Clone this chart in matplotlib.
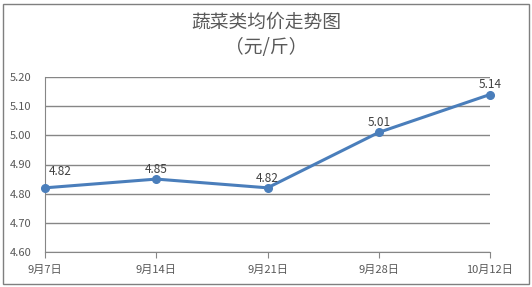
import matplotlib
matplotlib.use("Agg")
import matplotlib.pyplot as plt
from matplotlib.patches import Rectangle

plt.rcParams['font.family'] = ['Noto Sans CJK SC', 'DejaVu Sans']

categories = ['9月7日', '9月14日', '9月21日', '9月28日', '10月12日']
prices = [4.82, 4.85, 4.82, 5.01, 5.14]
yticks = [4.60, 4.70, 4.80, 4.90, 5.00, 5.10, 5.20]

fig = plt.figure(figsize=(5.32, 2.87), dpi=100)
fig.patch.set_facecolor('white')
fig.patches.append(Rectangle((3/532, 3/287), 526/532, 280/287, transform=fig.transFigure,
                             fill=False, edgecolor='#7f7f7f', linewidth=1))

ax = fig.add_axes([45/532, 1-252/287, 445/532, 175/287])
x = list(range(len(categories)))
ax.plot(x, prices, color='#4a7ebb', linewidth=2.2, marker='o', markersize=5.5, zorder=3,
        clip_on=False)
for i, (xi, v) in enumerate(zip(x, prices)):
    if i == 0:
        ax.annotate(f'{v:.2f}', (xi, v), xytext=(3, 11.5), textcoords='offset points',
                    ha='left', va='center', fontsize=8.5, color='#404040')
    else:
        ax.annotate(f'{v:.2f}', (xi, v), xytext=(0, 7), textcoords='offset points',
                    ha='center', va='center', fontsize=8.5, color='#404040')

ax.set_xlim(0, len(categories)-1)
ax.set_ylim(4.60, 5.20)
ax.set_yticks(yticks)
ax.set_yticklabels([f'{t:.2f}' for t in yticks])
ax.set_xticks(x)
ax.set_xticklabels(categories)
ax.grid(axis='y', color='#868686', linewidth=1)
ax.set_axisbelow(True)
for s in ['top', 'right']:
    ax.spines[s].set_visible(False)
for s in ['left', 'bottom']:
    ax.spines[s].set_color('#868686')
ax.tick_params(axis='y', length=0, labelsize=8, labelcolor='#595959', pad=10)
ax.tick_params(axis='x', length=4, color='#868686', labelsize=8, labelcolor='#595959', pad=5.5)

fig.text(0.5, 1-22.5/287, '蔬菜类均价走势图', ha='center', va='center', fontsize=13.5, color='#595959')
fig.text(0.5, 1-47/287, '（元/斤）', ha='center', va='center', fontsize=13.5, color='#595959')

fig.savefig('out.png', dpi=100)
